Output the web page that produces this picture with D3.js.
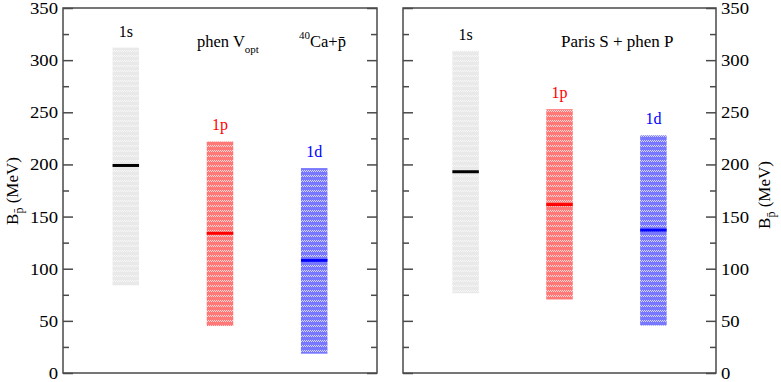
<!DOCTYPE html>
<html>
<head>
<meta charset="utf-8">
<script src="https://cdn.jsdelivr.net/npm/d3@7"></script>
<style>
  body { margin: 0; background: #fff; }
  svg text { font-family: "Liberation Serif", "DejaVu Serif", serif; }
</style>
</head>
<body>
<svg id="chart" width="781" height="382"></svg>
<script>
// data (MeV)
const states = ["1s", "1p", "1d"];
const stateColors = ["#000000", "#ff0000", "#0000ff"];

const leftCentral = [199, 134, 108];
const leftLow = [84, 45, 18.5];
const leftHigh = [312, 222, 196.5];

const rightCentral = [193, 161.5, 137];
const rightLow = [76.5, 70.5, 45.5];
const rightHigh = [309, 253, 228];

const majorTicks = [0, 50, 100, 150, 200, 250, 300, 350];
const minorTicks = [25, 75, 125, 175, 225, 275, 325];

const svg = d3.select("#chart");
const axisColor = "#4a4a4a";
const serif = "Liberation Serif";

const y = d3.scaleLinear().domain([0, 350]).range([373, 8]);

// fill patterns for the bands
const defs = svg.append("defs");
const patterns = [
    { id: "pat-1s", base: "#e9e9e9", dot: "#ffffff", op: 0.6 },
    { id: "pat-1p", base: "#ff7878", dot: "#ffffff", op: 0.7 },
    { id: "pat-1d", base: "#7878ff", dot: "#ffffff", op: 0.7 }
];
patterns.forEach(p => {
    const pat = defs.append("pattern")
        .attr("id", p.id)
        .attr("patternUnits", "userSpaceOnUse")
        .attr("width", 4)
        .attr("height", 5);
    pat.append("rect").attr("width", 4).attr("height", 5).attr("fill", p.base);
    [[0, 0], [2, 0], [1, 1], [3, 1]].forEach(([dx, dy]) => {
        pat.append("rect").attr("x", dx).attr("y", dy).attr("width", 1).attr("height", 1)
            .attr("fill", p.dot).attr("opacity", p.op);
    });
});

const panels = [
    { x0: 63, x1: 377, central: leftCentral, low: leftLow, high: leftHigh, leftLabels: true, rightLabels: false },
    { x0: 403, x1: 716, central: rightCentral, low: rightLow, high: rightHigh, leftLabels: false, rightLabels: true }
];

panels.forEach(p => {
    const x = d3.scaleLinear().domain([1 / 3, 11 / 3]).range([p.x0, p.x1]);
    const barW = 26.5;
    const g = svg.append("g");

    // bands
    g.selectAll("rect.band")
        .data(states)
        .enter()
        .append("rect")
        .attr("class", "band")
        .attr("x", (d, i) => x(i + 1) - barW / 2)
        .attr("y", (d, i) => y(p.high[i]))
        .attr("width", barW)
        .attr("height", (d, i) => y(p.low[i]) - y(p.high[i]))
        .attr("fill", d => `url(#pat-${d})`);

    // central values
    g.selectAll("line.central")
        .data(states)
        .enter()
        .append("line")
        .attr("x1", (d, i) => x(i + 1) - barW / 2)
        .attr("x2", (d, i) => x(i + 1) + barW / 2)
        .attr("y1", (d, i) => y(p.central[i]))
        .attr("y2", (d, i) => y(p.central[i]))
        .attr("stroke", (d, i) => stateColors[i])
        .attr("stroke-width", 3);

    // state labels
    g.selectAll("text.state")
        .data(states)
        .enter()
        .append("text")
        .attr("x", (d, i) => x(i + 1))
        .attr("y", (d, i) => y(p.high[i]) - 11)
        .attr("text-anchor", "middle")
        .attr("font-family", serif)
        .attr("font-size", 16)
        .attr("fill", (d, i) => stateColors[i])
        .text(d => d);

    // frame
    g.append("rect")
        .attr("x", p.x0)
        .attr("y", y(350))
        .attr("width", p.x1 - p.x0)
        .attr("height", y(0) - y(350))
        .attr("fill", "none")
        .attr("stroke", axisColor)
        .attr("stroke-width", 1.5);

    // axes, ticks inward
    const addAxis = (axisFn, xPos, values, size, labels) => {
        const ax = axisFn(y)
            .tickValues(values)
            .tickSizeInner(-size)
            .tickSizeOuter(0)
            .tickPadding(5)
            .tickFormat(labels ? d3.format("d") : "");
        const ga = g.append("g")
            .attr("transform", `translate(${xPos},0)`)
            .call(ax)
            .attr("font-family", serif)
            .attr("font-size", 17);
        ga.select(".domain").remove();
        ga.selectAll("line").attr("stroke", axisColor).attr("stroke-width", 1.5);
        ga.selectAll("text").attr("fill", "#000");
        if (labels) {
            // the original numbers are a little wider than the font
            ga.selectAll("text").each(function () {
                const w = this.getComputedTextLength();
                if (w > 0) {
                    d3.select(this)
                        .attr("textLength", w * 1.1)
                        .attr("lengthAdjust", "spacingAndGlyphs");
                }
            });
        }
    };
    addAxis(d3.axisLeft, p.x0, majorTicks, 10, p.leftLabels);
    addAxis(d3.axisLeft, p.x0, minorTicks, 6, false);
    addAxis(d3.axisRight, p.x1, majorTicks, 10, p.rightLabels);
    addAxis(d3.axisRight, p.x1, minorTicks, 6, false);
});

// panel annotations
const t1 = svg.append("text").attr("x", 197).attr("y", 47)
    .attr("font-family", serif).attr("font-size", 16.5);
t1.append("tspan").text("phen V");
t1.append("tspan").attr("dy", 6).attr("font-size", 11).text("opt");

const t2 = svg.append("text").attr("x", 299).attr("y", 47)
    .attr("font-family", serif).attr("font-size", 16.5);
t2.append("tspan").attr("dy", -8).attr("font-size", 11).text("40");
t2.append("tspan").attr("dy", 8).text("Ca+p\u0304");

svg.append("text").attr("x", 561).attr("y", 47)
    .attr("font-family", serif).attr("font-size", 17)
    .text("Paris S + phen P");

// y axis titles
[{ x: 17.5, y: 191 }, { x: 770, y: 195 }].forEach(pos => {
    const t = svg.append("text")
        .attr("transform", `translate(${pos.x},${pos.y}) rotate(-90)`)
        .attr("text-anchor", "middle")
        .attr("font-family", serif)
        .attr("font-size", 17);
    t.append("tspan").text("B");
    t.append("tspan").attr("dy", 5).attr("font-size", 12).text("p\u0304");
    t.append("tspan").attr("dy", -5).text(" (MeV)");
});
</script>
</body>
</html>
